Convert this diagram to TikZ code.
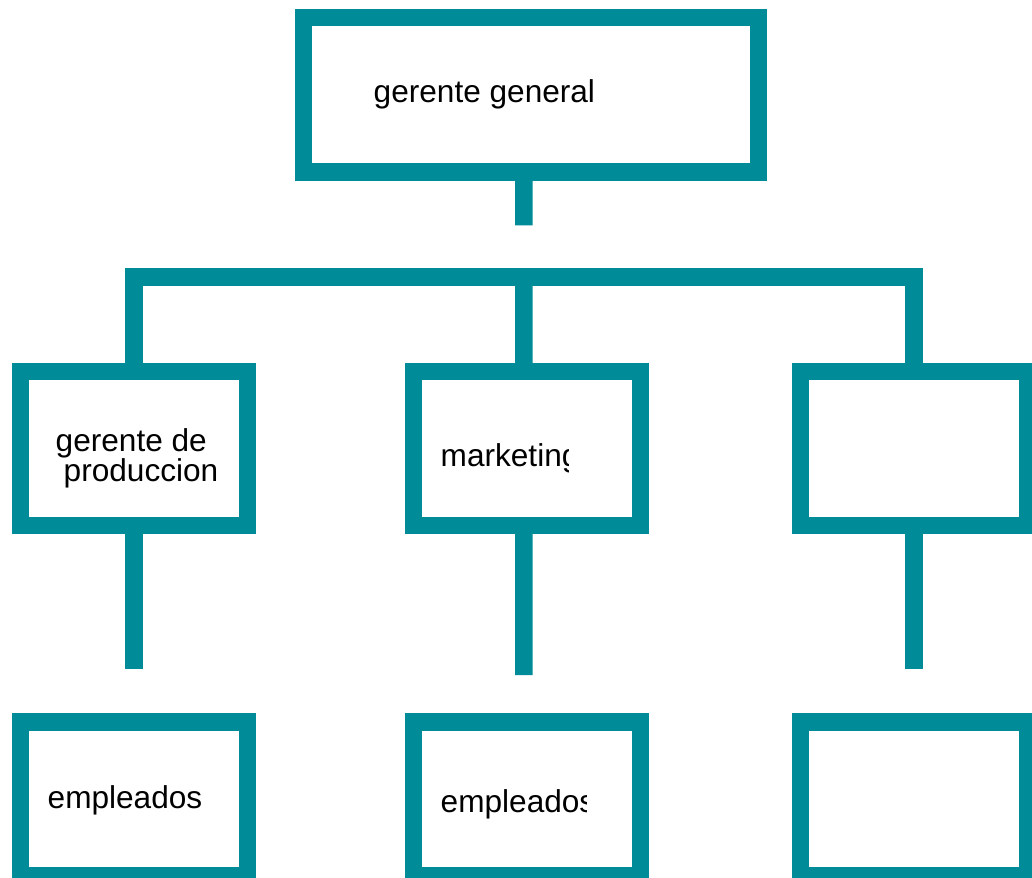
\documentclass[tikz,border=0pt]{standalone}
\usepackage{fontspec}
\setmainfont{Liberation Sans}
\definecolor{teal1}{RGB}{0,139,153}
\begin{document}
\begin{tikzpicture}[x=1pt,y=-1pt,
  orgbox/.style={draw=teal1,line width=17.5pt,inner sep=0pt,minimum width=226.75pt,minimum height=154pt},
  conn/.style={draw=teal1,line width=17.5pt,line cap=butt,line join=miter},
  lbl/.style={anchor=base west,inner sep=0pt,font=\fontsize{31.6}{30}\selectfont,text=black}]
\useasboundingbox (0,0) rectangle (1032,877);
% boxes
\node[orgbox,minimum width=454.75pt,minimum height=154.5pt] (top) at (531.1,95) {};
\node[orgbox] (pl) at (133.9,448.5) {};
\node[orgbox] (pm) at (527.1,448.5) {};
\node[orgbox] (pr) at (913.9,448.5) {};
\node[orgbox] (el) at (133.9,799) {};
\node[orgbox] (em) at (527.1,799) {};
\node[orgbox] (er) at (913.9,799) {};
% connector coordinates
\coordinate (topend) at (523.9,225.3);
\coordinate (barR) at (913.9,277.1);
\coordinate (barM) at (523.9,277.1);
\coordinate (lend) at (133.9,669.3);
\coordinate (mend) at (523.9,675);
\coordinate (rend) at (913.9,669.3);
% connectors
\draw[conn] ([xshift=-7.2pt,yshift=3pt]top.south) -- (topend);
\draw[conn] ([yshift=-3pt]pl.north) |- (barR) -- ([yshift=-3pt]pr.north);
\draw[conn] ([xshift=-3.2pt,yshift=-3pt]pm.north) -- (barM);
\draw[conn] ([yshift=3pt]pl.south) -- (lend);
\draw[conn] ([xshift=-3.2pt,yshift=3pt]pm.south) -- (mend);
\draw[conn] ([yshift=3pt]pr.south) -- (rend);
% labels
\node[lbl] (t1) at (373.5,103) {gerente general};
\node[lbl] (t2a) at (55.5,451.7) {gerente de};
\node[lbl] (t2b) at (63.5,481) {produccion};
\begin{scope}
\clip (430,420) rectangle (568,480);
\node[lbl] (t3) at (440.5,466.5) {marketing};
\end{scope}
\node[lbl] (t4) at (47.5,808.3) {empleados};
\begin{scope}
\clip (430,775) rectangle (586,830);
\node[lbl] (t5) at (440.5,812) {empleados};
\end{scope}
\end{tikzpicture}
\end{document}
